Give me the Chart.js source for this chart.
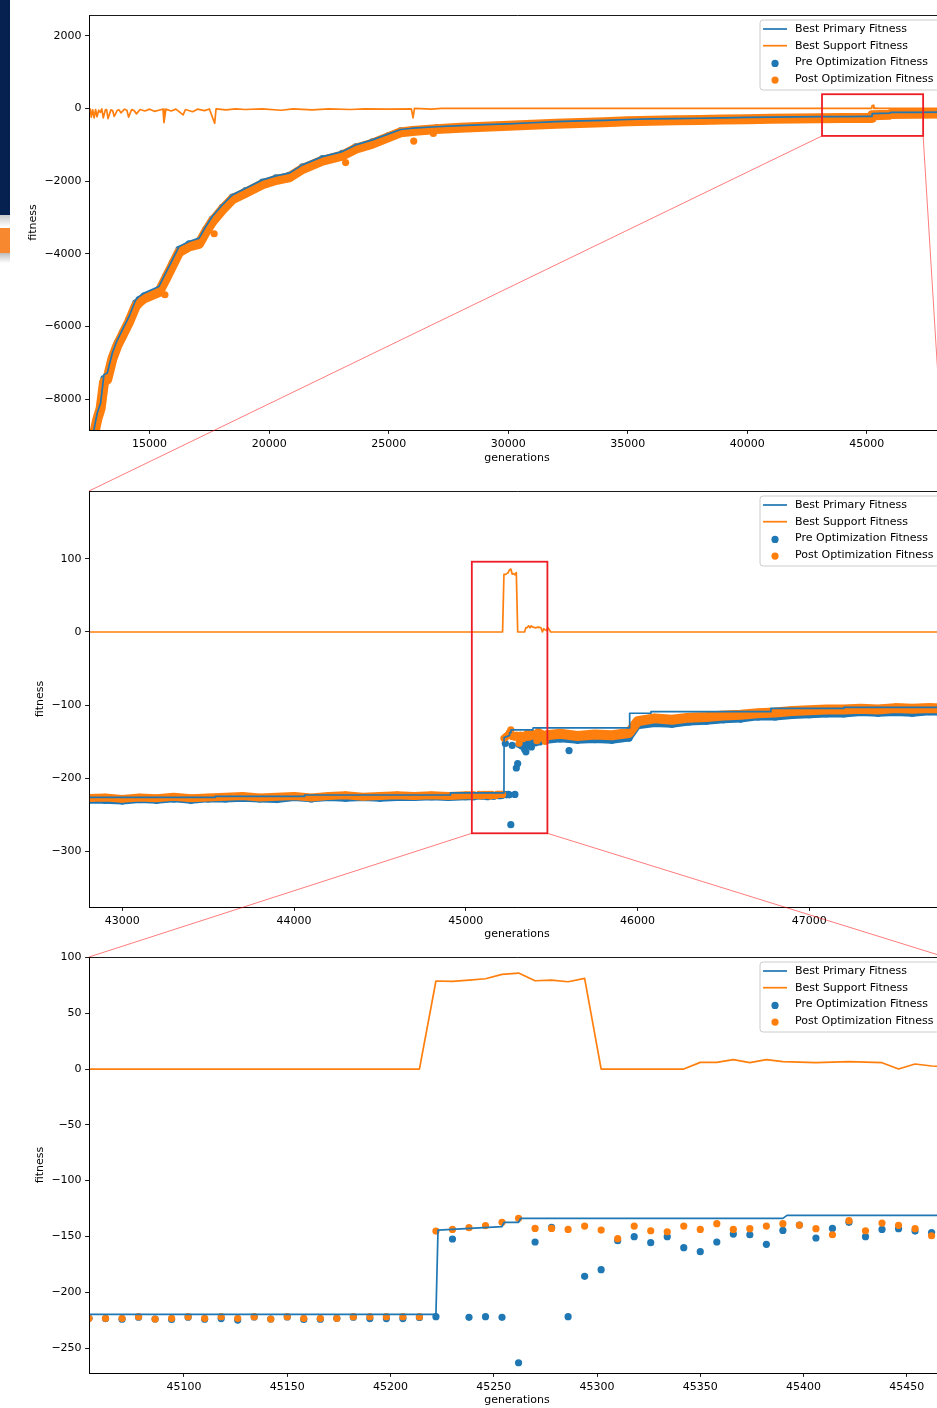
<!DOCTYPE html>
<html>
<head>
<meta charset="utf-8">
<title>fitness</title>
<script src="https://cdn.jsdelivr.net/npm/chart.js@4.4.1/dist/chart.umd.min.js"></script>
<style>
html, body { margin: 0; padding: 0; background: #fff; overflow: hidden; }
#fig { position: relative; width: 937px; height: 1408px; overflow: hidden; background: #fff; }
.panel { position: absolute; left: 0; }
canvas { display: block; }
#overlay { position: absolute; left: 0; top: 0; pointer-events: none; }
#navy { position: absolute; left: 0; top: 0; width: 10px; height: 215px; background: #06214f; }
#navyShade { position: absolute; left: 0; top: 215px; width: 10px; height: 12px; background: linear-gradient(#c9c9c9, #fff); }
#tab { position: absolute; left: 0; top: 228px; width: 10px; height: 25px; background: #f7882f; }
#tabShade { position: absolute; left: 0; top: 253px; width: 10px; height: 10px; background: linear-gradient(#bcbcbc, #fff); }
</style>
</head>
<body>
<div id="fig">
  <div class="panel" style="top:0px"><canvas id="c1" width="1000" height="475"></canvas></div>
  <div class="panel" style="top:475px"><canvas id="c2" width="1000" height="466"></canvas></div>
  <div class="panel" style="top:941px"><canvas id="c3" width="1000" height="467"></canvas></div>
  <canvas id="overlay" width="1000" height="1408"></canvas>
  <div id="navy"></div><div id="navyShade"></div><div id="tab"></div><div id="tabShade"></div>
</div>
<script>
// legend entries
const seriesNames = ['Best Primary Fitness', 'Best Support Fitness', 'Pre Optimization Fitness', 'Post Optimization Fitness'];
const seriesColors = ['#1f77b4', '#ff7f0e', '#1f77b4', '#ff7f0e'];
const seriesKinds = ['line', 'line', 'dot', 'dot'];

// ticks
const xTicks1 = [15000, 20000, 25000, 30000, 35000, 40000, 45000];
const yTicks1 = [-8000, -6000, -4000, -2000, 0, 2000];
const xTicks2 = [43000, 44000, 45000, 46000, 47000];
const yTicks2 = [-300, -200, -100, 0, 100];
const xTicks3 = [45100, 45150, 45200, 45250, 45300, 45350, 45400, 45450];
const yTicks3 = [-250, -200, -150, -100, -50, 0, 50, 100];

// axis limits and zoom boxes (data units)
const xLim1 = [12464, 48275], yLim1 = [-8853, 2572];
const xLim2 = [42806, 47790], yLim2 = [-375.7, 192.6];
const xLim3 = [45054, 45468.5], yLim3 = [-272.4, 100.4];
const zoomBox1 = { x: [43130, 47360], y: [-757, 391] };
const zoomBox2 = { x: [45035, 45475], y: [-275, 96] };

// ---- whole run (top panel)
const gens1 = [12500, 12670, 12810, 12950, 13090, 13230, 13440, 13650, 13860, 14140, 14420, 14560, 14770, 15390, 15670, 15950, 16230, 16650, 17070, 17350, 17620, 18040, 18460, 19020, 19720, 20280, 20830, 21390, 22230, 23060, 23620, 24320, 25000, 25500, 26000, 27000, 28000, 29000, 30000, 31000, 32000, 33000, 34000, 35000, 36000, 37000, 38000, 39000, 40000, 41000, 42000, 43000, 44000, 45000, 45220, 45230, 45950, 46000, 47000, 48300];
const primary1 = [-9300, -8843, -8385, -8110, -7331, -7285, -6735, -6369, -6094, -5727, -5268, -5177, -5085, -4902, -4534, -4168, -3802, -3664, -3571, -3252, -2977, -2655, -2380, -2195, -1967, -1857, -1783, -1554, -1326, -1188, -1004, -867, -700, -580, -545, -505, -475, -447, -425, -395, -365, -345, -330, -305, -290, -280, -270, -258, -248, -240, -234, -228, -223, -220, -220, -144, -132, -111, -107, -103];
const post1 = [-9450, -8990, -8560, -8260, -7540, -7460, -6900, -6530, -6250, -5880, -5440, -5340, -5230, -5060, -4700, -4330, -3960, -3800, -3730, -3400, -3120, -2790, -2500, -2320, -2090, -1970, -1900, -1670, -1440, -1300, -1110, -970, -790, -660, -620, -570, -535, -505, -480, -450, -420, -398, -380, -355, -338, -328, -318, -305, -295, -287, -280, -273, -267, -263, -262, -186, -176, -152, -146, -141];
const pre1 = [-9380, -8920, -8470, -8190, -7440, -7370, -6820, -6450, -6170, -5800, -5350, -5260, -5160, -4980, -4620, -4250, -3880, -3730, -3650, -3330, -3050, -2720, -2440, -2260, -2030, -1910, -1840, -1610, -1380, -1240, -1060, -920, -745, -620, -580, -538, -505, -476, -452, -422, -392, -372, -355, -330, -314, -304, -294, -282, -272, -264, -257, -251, -245, -242, -241, -165, -154, -132, -127, -122];
const outGens1 = [15640, 17700, 23200, 26050, 26870];
const outPost1 = [-5130, -3450, -1490, -900, -690];
const supGens1 = [12464, 12520, 12560, 12620, 12680, 12740, 12800, 12870, 12940, 13000, 13060, 13150, 13200, 13260, 13380, 13450, 13520, 13650, 13720, 13800, 13950, 14050, 14120, 14250, 14350, 14450, 14600, 14800, 15000, 15200, 15500, 15560, 15600, 15680, 15900, 16100, 16400, 16500, 16800, 17000, 17300, 17500, 17720, 17780, 18200, 18600, 19000, 19700, 20500, 21000, 21800, 22500, 23400, 24000, 25000, 25950, 26020, 26080, 26800, 27200, 45210, 45225, 45290, 45300, 45350, 45500, 48300];
const support1 = [-120, -20, -240, -40, -260, -30, -230, -50, -110, -10, -260, -40, -30, -280, -40, -60, -220, -50, -40, -120, -20, -50, -240, -30, -60, -150, -30, -70, -20, -80, -30, -20, -390, -20, -70, -20, -180, -30, -90, -20, -60, -15, -410, -10, -40, -10, -30, -10, -50, -10, -40, -10, -30, -10, -20, -15, -260, 0, -20, 0, 0, 80, 84, 0, 6, 0, 0];

// ---- best primary fitness around the jump (middle + bottom panels)
const primGens = [42806, 43540, 43541, 44060, 44061, 44910, 44911, 45222, 45223, 45254, 45255, 45262, 45263, 45390, 45392, 45953, 45954, 46077, 46078, 46775, 46776, 47200, 47201, 47800];
const primVals = [-226, -226, -224.5, -224.5, -222.7, -222.7, -219.8, -219.8, -144.3, -141.3, -137.4, -137.4, -133.8, -133.8, -131.1, -131.1, -111, -111, -108.8, -108.8, -104.3, -104.3, -103, -103];

// ---- every 8 generations, 45054 - 45462 (bottom panel)
const gens3 = [45054, 45062, 45070, 45078, 45086, 45094, 45102, 45110, 45118, 45126, 45134, 45142, 45150, 45158, 45166, 45174, 45182, 45190, 45198, 45206, 45214, 45222, 45230, 45238, 45246, 45254, 45262, 45270, 45278, 45286, 45294, 45302, 45310, 45318, 45326, 45334, 45342, 45350, 45358, 45366, 45374, 45382, 45390, 45398, 45406, 45414, 45422, 45430, 45438, 45446, 45454, 45462];
const pre3 = [-223.4, -223.6, -224.2, -222.4, -224.0, -224.4, -222.4, -224.2, -223.6, -225.0, -222.2, -224.0, -222.2, -224.4, -224.2, -223.4, -222.4, -223.6, -223.6, -223.6, -222.6, -221.9, -152.3, -222.5, -221.9, -222.5, -263.2, -155.0, -141.9, -221.9, -185.8, -179.8, -153.8, -150.2, -155.6, -150.2, -160.1, -163.7, -155.0, -147.9, -148.5, -157.1, -144.6, -139.8, -151.4, -142.8, -137.4, -150.2, -143.7, -143.1, -145.2, -146.6];
const post3 = [-223.4, -223.4, -223.4, -221.9, -224.0, -223.4, -221.9, -223.4, -221.9, -223.4, -221.9, -224.0, -221.9, -223.4, -223.4, -223.4, -221.9, -221.9, -221.9, -221.9, -221.9, -145.2, -143.7, -142.2, -140.4, -137.4, -133.8, -142.8, -142.8, -143.7, -140.7, -144.3, -152.0, -140.7, -144.9, -145.8, -140.7, -143.7, -138.6, -143.7, -143.1, -140.7, -138.6, -139.8, -143.1, -148.5, -135.9, -144.9, -138.0, -140.1, -143.1, -149.4];
const support3 = [0, 0, 0, 0, 0, 0, 0, 0, 0, 0, 0, 0, 0, 0, 0, 0, 0, 0, 0, 0, 0, 78.9, 78.6, 79.7, 80.9, 84.8, 86.0, 79.1, 79.7, 78.2, 81.2, 0, 0, 0, 0, 0, 0, 6.0, 6.0, 8.4, 5.7, 8.4, 6.6, 6.2, 5.7, 6.2, 6.6, 6.2, 5.7, 0, 4.5, 2.7];
const supTailGens = [45470, 45478, 45486, 45494, 47800];
const supTail = [2.0, 6.0, 3.0, 0, 0];

// ---- coarse samples either side (middle panel)
const gens2L = [42800, 42900, 43000, 43100, 43200, 43300, 43400, 43500, 43600, 43700, 43800, 43900, 44000, 44100, 44200, 44300, 44400, 44500, 44600, 44700, 44800, 44900, 45000, 45046];
const post2L = [-227, -226, -228, -226, -227, -225, -227, -226, -225, -224, -226, -225, -224, -226, -224, -223, -225, -224, -223, -224, -223, -224, -223, -223];
const pre2L = [-230, -230, -231, -229, -230, -228, -230, -228, -228, -227, -228, -229, -226, -228, -226, -227, -226, -227, -226, -226, -225, -226, -225, -225];
const gens2R = [45470, 45550, 45650, 45750, 45850, 45950, 46000, 46100, 46200, 46300, 46400, 46500, 46600, 46700, 46800, 46900, 47000, 47100, 47200, 47300, 47400, 47500, 47600, 47700, 47800];
const post2R = [-141, -139, -142, -140, -141, -138, -122, -118, -120, -117, -116, -114, -113, -111, -110, -108, -107, -106, -106, -105, -106, -104, -105, -104, -105];
const pre2R = [-148, -146, -148, -147, -148, -145, -128, -125, -126, -123, -122, -120, -119, -116, -116, -114, -113, -112, -112, -110, -111, -110, -111, -109, -110];
const outGens2 = [45601];
const outPre2 = [-162];

Chart.defaults.font.family = '"DejaVu Sans", sans-serif';
Chart.defaults.font.size = 11;
Chart.defaults.color = '#000';

const C0 = seriesColors[0], C1 = seriesColors[1];
const pts = (xs, ys) => xs.map((x, i) => ({ x: x, y: ys[i] }));
const fmt = v => (v < 0 ? '\u2212' + Math.abs(v) : String(v));

function lineSet(xs, ys, color, order) {
  return { data: pts(xs, ys), showLine: true, borderColor: color, borderWidth: 1.7,
    pointRadius: 0, order: order, clip: 0, borderJoinStyle: 'round' };
}
function dotSet(xs, ys, color, order, band) {
  return { data: pts(xs, ys), showLine: !!band, borderColor: color, borderWidth: band || 0,
    backgroundColor: color, pointBackgroundColor: color, pointBorderWidth: 0, pointRadius: 3.6,
    order: order, clip: 0, borderJoinStyle: 'round', borderCapStyle: 'round' };
}

function roundRect(ctx, x, y, w, h, r) {
  ctx.beginPath();
  ctx.moveTo(x + r, y);
  ctx.lineTo(x + w - r, y); ctx.arcTo(x + w, y, x + w, y + r, r);
  ctx.lineTo(x + w, y + h - r); ctx.arcTo(x + w, y + h, x + w - r, y + h, r);
  ctx.lineTo(x + r, y + h); ctx.arcTo(x, y + h, x, y + h - r, r);
  ctx.lineTo(x, y + r); ctx.arcTo(x, y, x + r, y, r);
  ctx.closePath();
}

function drawLegend(chart) {
  const { ctx, chartArea: a } = chart;
  ctx.save();
  ctx.font = '11px "DejaVu Sans"';
  const tw = Math.max(...seriesNames.map(n => ctx.measureText(n).width));
  const right = a.right - 5.5, top = a.top + 5, h = 70;
  const tx = right - 6 - tw;
  const hx1 = tx - 8, hx0 = hx1 - 24;
  const left = hx0 - 3;
  roundRect(ctx, left, top, right - left, h, 3);
  ctx.fillStyle = 'rgba(255,255,255,0.8)';
  ctx.fill();
  ctx.strokeStyle = '#cccccc';
  ctx.lineWidth = 1;
  ctx.stroke();
  seriesNames.forEach((n, i) => {
    const cy = top + 9 + i * 16.7;
    ctx.strokeStyle = seriesColors[i];
    ctx.fillStyle = seriesColors[i];
    if (seriesKinds[i] === 'line') {
      ctx.lineWidth = 1.7;
      ctx.beginPath(); ctx.moveTo(hx0, cy); ctx.lineTo(hx1, cy); ctx.stroke();
    } else {
      ctx.beginPath(); ctx.arc((hx0 + hx1) / 2, cy + 1, 3.6, 0, Math.PI * 2); ctx.fill();
    }
    ctx.fillStyle = '#000';
    ctx.textBaseline = 'middle';
    ctx.fillText(n, tx, cy);
  });
  ctx.restore();
}

// spines on top of the data (matplotlib style) + legend
const frame = {
  id: 'frame',
  afterDatasetsDraw(chart) {
    const { ctx, chartArea: a } = chart;
    ctx.save();
    ctx.strokeStyle = '#000';
    ctx.lineWidth = 0.9;
    ctx.beginPath();
    ctx.moveTo(a.right, Math.round(a.top) + 0.5);
    ctx.lineTo(Math.round(a.left) + 0.5, Math.round(a.top) + 0.5);
    ctx.lineTo(Math.round(a.left) + 0.5, Math.round(a.bottom) + 0.5);
    ctx.lineTo(a.right, Math.round(a.bottom) + 0.5);
    ctx.stroke();
    ctx.restore();
    drawLegend(chart);
  }
};

function axis(lim, ticks, fit, title) {
  return {
    type: 'linear', min: lim[0], max: lim[1],
    afterBuildTicks: s => { s.ticks = ticks.map(v => ({ value: v })); },
    afterFit: fit,
    ticks: { callback: fmt, padding: 3.5, maxRotation: 0, autoSkip: false },
    grid: { drawOnChartArea: false, tickLength: 3.9, color: '#000', lineWidth: 0.9 },
    border: { color: '#000', width: 0.9 },
    title: title
  };
}

// L: h canvas height, top/bottom of axes and title centres in canvas pixels
function panel(id, L, datasets) {
  return new Chart(document.getElementById(id), {
    type: 'scatter',
    data: { datasets: datasets },
    options: {
      responsive: false, animation: false, events: [],
      layout: { padding: { top: L.axTop, right: 55, left: 0, bottom: 0 } },
      plugins: { legend: { display: false }, tooltip: { enabled: false } },
      scales: {
        x: axis(L.x, L.xt, s => { s.height = L.h - L.axBot; },
          { display: true, text: 'generations', padding: { top: 0, bottom: L.h - L.titleY - 6.6 } }),
        y: axis(L.y, L.yt, s => { s.width = 89; },
          { display: true, text: 'fitness', padding: { top: L.yTitleX - 6.6, bottom: 0 } })
      }
    },
    plugins: [frame]
  });
}

const chart1 = panel('c1', { h: 475, axTop: 15, axBot: 430, titleY: 458, yTitleX: 33, x: xLim1, y: yLim1, xt: xTicks1, yt: yTicks1 }, [
  lineSet(supGens1, support1, C1, 0),
  lineSet(gens1, primary1, C0, 1),
  dotSet(gens1, post1, C1, 2, 10),
  dotSet(outGens1, outPost1, C1, 2),
  dotSet(gens1, pre1, C0, 3, 4)
]);

const chart2 = panel('c2', { h: 466, axTop: 16, axBot: 432, titleY: 459, yTitleX: 40, x: xLim2, y: yLim2, xt: xTicks2, yt: yTicks2 }, [
  lineSet([42806].concat(gens3.slice(20), supTailGens), [0].concat(support3.slice(20), supTail), C1, 0),
  lineSet(primGens, primVals, C0, 1),
  dotSet(gens2L, post2L, C1, 2, 8),
  dotSet(gens3, post3, C1, 2),
  dotSet(gens2R, post2R, C1, 2, 10),
  dotSet(gens2L, pre2L, C0, 3, 7),
  dotSet(gens3, pre3, C0, 3),
  dotSet(gens2R, pre2R, C0, 3, 7),
  dotSet(outGens2, outPre2, C0, 3)
]);

const chart3 = panel('c3', { h: 467, axTop: 16, axBot: 432, titleY: 459, yTitleX: 40, x: xLim3, y: yLim3, xt: xTicks3, yt: yTicks3 }, [
  lineSet(gens3.concat(supTailGens), support3.concat(supTail), C1, 0),
  lineSet(primGens, primVals, C0, 1),
  dotSet(gens3, post3, C1, 2),
  dotSet(gens3, pre3, C0, 3)
]);

// zoom rectangles and connector lines between the panels
(function drawZoom() {
  const charts = [chart1, chart2, chart3];
  const tops = [0, 475, 941];
  const ctx = document.getElementById('overlay').getContext('2d');
  const P = (k, x, y) => [charts[k].scales.x.getPixelForValue(x), tops[k] + charts[k].scales.y.getPixelForValue(y)];
  [zoomBox1, zoomBox2].forEach((b, k) => {
    const [x0, y0] = P(k, b.x[0], b.y[1]);
    const [x1, y1] = P(k, b.x[1], b.y[0]);
    const next = charts[k + 1].chartArea, nt = tops[k + 1];
    ctx.strokeStyle = 'rgba(255,0,0,0.65)';
    ctx.lineWidth = 0.8;
    ctx.beginPath();
    ctx.moveTo(x0, y1); ctx.lineTo(next.left, nt + next.top);
    ctx.moveTo(x1, y1); ctx.lineTo(next.right, nt + next.top);
    ctx.stroke();
    ctx.strokeStyle = '#ee1c25';
    ctx.lineWidth = 1.8;
    ctx.strokeRect(x0, y0, x1 - x0, y1 - y0);
  });
})();
</script>
</body>
</html>
